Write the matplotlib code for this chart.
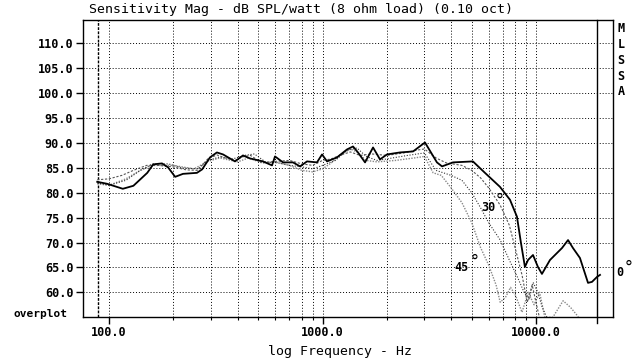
import matplotlib
matplotlib.use("Agg")
import matplotlib.pyplot as plt
from matplotlib.ticker import FixedLocator, NullFormatter

# 0 deg (on axis), solid
freq_0 = [88, 98, 116, 130, 151, 161, 177, 189, 204, 222, 258, 273, 297, 320, 342,
          389, 424, 457, 526, 580, 599, 653, 727, 785, 846, 942, 995, 1050, 1169,
          1302, 1390, 1466, 1582, 1725, 1859, 2005, 2307, 2655, 3020, 3436, 3630,
          4085, 5065, 5768, 6778, 7554, 8145, 8500, 8876, 9180, 9685, 10213, 10666,
          11634, 13243, 14133, 14905, 16070, 17531, 18300, 19323, 19953]
spl_0 = [82.2, 81.8, 80.8, 81.4, 84.0, 85.7, 85.9, 85.1, 83.2, 83.8, 84.0, 84.7, 87.1,
         88.1, 87.7, 86.3, 87.5, 86.9, 86.3, 85.5, 87.3, 86.1, 86.1, 85.3, 86.3, 86.1,
         87.7, 86.3, 87.1, 88.7, 89.3, 88.1, 86.1, 89.1, 86.7, 87.7, 88.1, 88.3, 90.1,
         86.1, 85.3, 86.1, 86.3, 84.0, 81.2, 78.6, 75.2, 70.0, 65.1, 66.5, 67.5, 65.1,
         63.7, 66.5, 68.9, 70.5, 68.9, 66.9, 61.9, 62.1, 63.1, 63.5]

# 15 deg, fine black dots
freq_15 = [88, 100, 115, 130, 150, 170, 200, 230, 260, 290, 320, 350, 390, 420, 460,
           520, 600, 700, 800, 900, 1000, 1100, 1200, 1350, 1500, 1700, 2000, 2400,
           2800, 3000, 3400, 3800, 4500, 5000, 5500, 6000, 6800, 7500, 8200, 8600,
           9100, 9600, 10000, 10500]
spl_15 = [82.6, 82.8, 83.5, 84.5, 85.5, 85.5, 85.2, 84.6, 84.5, 86.8, 87.6, 87.0, 86.5,
          87.2, 87.5, 86.0, 86.3, 86.5, 85.8, 85.5, 86.5, 86.8, 87.5, 88.2, 87.5, 87.8,
          87.5, 88.0, 88.6, 88.8, 87.0, 86.0, 85.5, 84.5, 83.0, 81.0, 77.5, 73.5, 67.0,
          63.5, 58.0, 61.5, 58.0, 54.0]

# 30 deg, black dots
freq_30 = [88, 100, 120, 140, 160, 190, 220, 260, 290, 330, 380, 430, 480, 540, 620,
           700, 800, 900, 1000, 1150, 1300, 1450, 1600, 1800, 2000, 2500, 3000, 3400,
           4000, 4500, 5000, 5500, 6000, 6800, 7500, 8200, 8800, 9300, 9700, 10200,
           10700, 11500]
spl_30 = [82.0, 81.5, 82.5, 84.5, 85.8, 85.8, 85.0, 84.8, 86.5, 87.2, 86.8, 87.5, 87.8,
          86.2, 86.0, 85.5, 85.2, 84.8, 85.5, 86.5, 88.5, 89.0, 87.3, 86.5, 86.8, 87.5,
          88.0, 84.5, 83.5, 82.5, 80.0, 77.0, 74.0, 70.5, 66.5, 63.0, 60.0, 58.5, 62.0,
          60.0, 57.0, 54.0]

# 45 deg, grey dots
freq_45 = [88, 100, 120, 140, 160, 200, 250, 290, 330, 400, 450, 520, 600, 700, 800,
           900, 1000, 1100, 1200, 1350, 1450, 1600, 1800, 2200, 2700, 3000, 3300, 3600,
           4000, 4500, 5000, 5500, 6000, 6500, 6800, 7200, 7600, 8000, 8600, 9200,
           9800, 10400, 11000, 12000, 13400, 14500, 15500, 16500]
spl_45 = [81.8, 81.5, 82.8, 84.5, 85.5, 85.5, 84.8, 86.3, 87.0, 86.2, 87.0, 86.0, 86.2,
          85.5, 84.5, 84.2, 84.8, 86.0, 87.5, 88.8, 88.2, 86.5, 86.2, 86.5, 87.0, 87.3,
          84.0, 83.5, 81.0, 78.0, 74.0, 69.0, 65.5, 61.5, 58.0, 59.0, 61.0, 59.5, 56.0,
          60.0, 57.5, 60.0, 55.0, 55.0, 58.3, 57.0, 55.5, 54.0]

y_ticks = [60, 65, 70, 75, 80, 85, 90, 95, 100, 105, 110]
x_major = [100, 1000, 10000]
x_labels = ['100.0', '1000.0', '10000.0']
x_minor = [200, 300, 400, 500, 600, 700, 800, 900,
           2000, 3000, 4000, 5000, 6000, 7000, 8000, 9000]

fig = plt.figure(figsize=(6.37, 3.63), dpi=100)
ax = fig.add_axes([0.1303, 0.1275, 0.8320, 0.8187])
ax.set_xscale('log')
ax.set_xlim(75.5, 22950)
ax.set_ylim(55.1, 114.8)

# grid
for f in x_major + x_minor:
    ax.axvline(f, color='black', lw=0.7, ls=(0, (1, 2)), zorder=1)
for v in y_ticks:
    ax.axhline(v, color='black', lw=0.7, ls=(0, (1, 2)), zorder=1)
ax.axvline(89, color='black', lw=1.0, ls=(0, (2, 1)), zorder=1)
ax.axvline(19300, color='black', lw=1.0, zorder=2, ymin=-0.02, clip_on=False)

ax.plot(freq_45, spl_45, color='#888888', lw=1.0, ls=(0, (1, 1)), zorder=3)
ax.plot(freq_30, spl_30, color='#333333', lw=0.8, ls=(0, (1, 1.5)), zorder=3)
ax.plot(freq_15, spl_15, color='#555555', lw=0.8, ls=(0, (2, 1.5)), zorder=3)
ax.plot(freq_0, spl_0, color='black', lw=1.3, zorder=4)

mono = 'DejaVu Sans Mono'
ax.yaxis.set_major_locator(FixedLocator(y_ticks))
ax.set_yticklabels(['%.1f' % v for v in y_ticks], family=mono, weight='bold', fontsize=8.5)
ax.xaxis.set_major_locator(FixedLocator(x_major))
ax.xaxis.set_minor_locator(FixedLocator(x_minor))
ax.xaxis.set_minor_formatter(NullFormatter())
ax.set_xticklabels(x_labels, family=mono, weight='bold', fontsize=8.5)
ax.tick_params(axis='both', which='major', direction='out', length=5, width=1, pad=2)
ax.tick_params(axis='x', which='minor', direction='out', length=2.5, width=0.8)

for s in ax.spines.values():
    s.set_linewidth(1.0)

ax.text(6000, 77.0, '30', family=mono, weight='bold', fontsize=8.5, ha='center', va='center')
ax.text(6750, 78.4, '°', family=mono, fontsize=12, ha='center', va='center')
ax.text(4457, 64.9, '45', family=mono, weight='bold', fontsize=8.5, ha='center', va='center')
ax.text(5150, 66.2, '°', family=mono, fontsize=12, ha='center', va='center')

fig.text(301 / 637, 1 - 10 / 363, 'Sensitivity Mag - dB SPL/watt (8 ohm load) (0.10 oct)',
         family=mono, fontsize=9.5, ha='center', va='center')
fig.text(340 / 637, 1 - 352 / 363, 'log Frequency - Hz', family=mono, fontsize=9.5,
         ha='center', va='center')
fig.text(41 / 637, 1 - 314 / 363, 'overplot', family=mono, weight='bold', fontsize=8,
         ha='center', va='center')
for i, ch in enumerate('MLSSA'):
    fig.text(621 / 637, 1 - (29 + i * 15.7) / 363, ch, family=mono, weight='bold',
             fontsize=8.5, ha='center', va='center')
fig.text(620 / 637, 1 - 273 / 363, '0', family=mono, weight='bold', fontsize=8.5,
         ha='center', va='center')
fig.text(629 / 637, 1 - 268 / 363, '°', family=mono, fontsize=12, ha='center', va='center')

fig.savefig('out.png', dpi=100)
